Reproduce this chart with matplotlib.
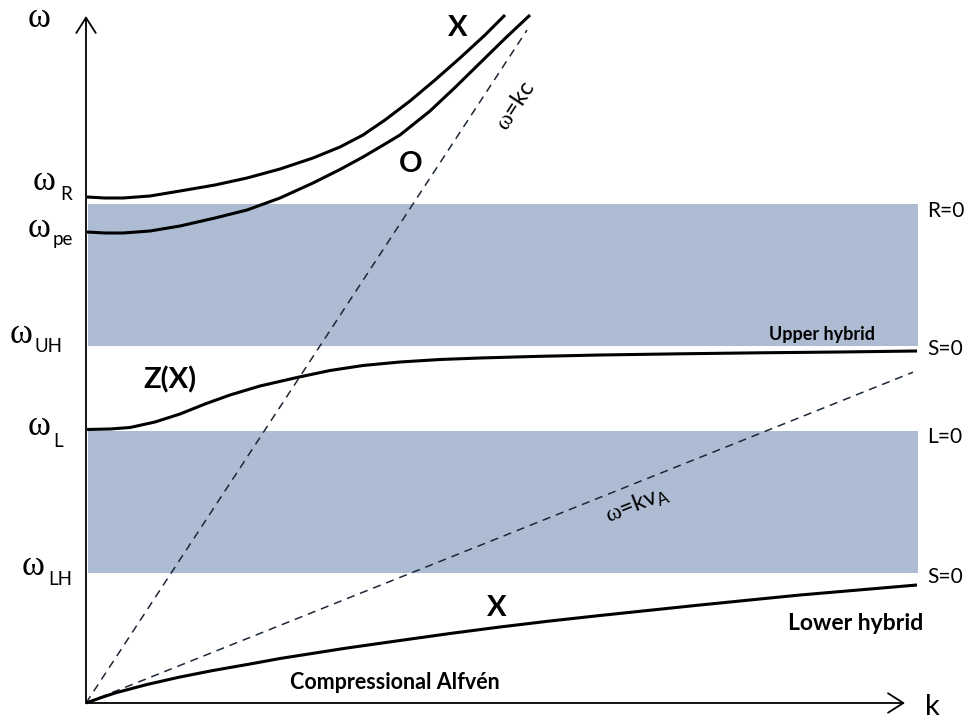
import numpy as np
import matplotlib
matplotlib.use("Agg")
import matplotlib.pyplot as plt
from matplotlib.patches import FancyArrowPatch

# ---------------- FONTS ----------------
plt.rcParams["font.family"] = ["Lato", "DejaVu Sans"]
plt.rcParams["mathtext.fontset"] = "custom"
plt.rcParams["mathtext.rm"] = "Liberation Serif"
plt.rcParams["mathtext.sf"] = "Lato"
SERIF = "Liberation Serif"

# ---------------- DATA (arbitrary units: k, omega) ----------------
# upper X branch (starts at omega_R)
x_hi_k = [0.01, 0.19, 0.37, 0.64, 0.94, 1.29, 1.61, 1.94, 2.27, 2.54, 2.77,
          2.99, 3.24, 3.49, 3.74, 3.99, 4.19]
x_hi_w = [5.06, 5.05, 5.05, 5.07, 5.12, 5.18, 5.25, 5.34, 5.45, 5.56, 5.68,
          5.83, 6.02, 6.23, 6.45, 6.68, 6.88]

# O mode (starts at omega_pe)
o_k = [0.01, 0.19, 0.37, 0.64, 0.94, 1.29, 1.61, 1.94, 2.27, 2.54, 2.77,
       2.99, 3.14, 3.44, 3.69, 3.94, 4.19, 4.44]
o_w = [4.71, 4.70, 4.70, 4.72, 4.77, 4.85, 4.93, 5.05, 5.20, 5.335, 5.46,
       5.59, 5.68, 5.92, 6.155, 6.40, 6.645, 6.88]

# Z(X) branch, omega_L -> upper hybrid
z_k = [0.01, 0.24, 0.44, 0.69, 0.94, 1.19, 1.44, 1.74, 2.11, 2.44, 2.77,
       3.14, 3.54, 3.94, 4.54, 5.14, 5.94, 6.74, 7.54, 8.31]
z_w = [2.735, 2.74, 2.755, 2.81, 2.89, 2.99, 3.08, 3.17, 3.255, 3.325, 3.375,
       3.41, 3.435, 3.45, 3.467, 3.48, 3.492, 3.502, 3.51, 3.52]

# lower X branch (compressional Alfven -> lower hybrid)
a_k = [0.0, 0.14, 0.29, 0.44, 0.61, 0.94, 1.27, 1.64, 1.94, 2.61, 3.14,
       3.64, 4.14, 4.64, 5.14, 6.14, 7.14, 8.31]
a_w = [0.0, 0.05, 0.10, 0.14, 0.185, 0.26, 0.325, 0.39, 0.445, 0.55, 0.625,
       0.695, 0.76, 0.82, 0.875, 0.98, 1.08, 1.18]

# light lines
c_light = 1.526
k_c_end = 4.41
v_alfven = 0.40
k_va_end = 8.27

# evanescent bands (omega_lo, omega_hi)
band_k = (0.02, 8.32)
band_r = (3.57, 4.99)   # between upper hybrid and R=0
band_l = (1.30, 2.72)   # between lower hybrid and L=0

# axis labels: (name, omega x-pos, omega baseline, sub x-pos, sub baseline)
freq_labels = [
    ("R", -0.53, 5.13, -0.26, 5.03),
    ("pe", -0.58, 4.66, -0.33, 4.58),
    ("UH", -0.76, 3.60, -0.51, 3.51),
    ("L", -0.58, 2.68, -0.33, 2.56),
    ("LH", -0.64, 1.28, -0.38, 1.18),
]
cutoff_labels = [("R=0", 4.86), ("S=0", 3.48), ("L=0", 2.60), ("S=0", 1.20)]

BAND_COLOR = "#adbcd2"
DASH_COLOR = "#1c2636"

# ---------------- FIGURE ----------------
fig = plt.figure(figsize=(9.8, 7.2), dpi=100)
ax = fig.add_axes([0, 0, 1, 1])
ax.set_xlim(-0.86, 8.94)
ax.set_ylim(-0.17, 7.03)
ax.axis("off")

for lo, hi in (band_r, band_l):
    ax.fill_between(band_k, lo, hi, color=BAND_COLOR, lw=0, zorder=1)

kc = np.array([0, k_c_end])
ax.plot(kc, c_light * kc, color=DASH_COLOR, lw=1.1, ls=(0, (5.3, 3.9)), zorder=2)
kv = np.array([0, k_va_end])
ax.plot(kv, v_alfven * kv, color=DASH_COLOR, lw=1.1, ls=(0, (5.3, 3.9)), zorder=2)

for kk, ww in ((x_hi_k, x_hi_w), (o_k, o_w), (z_k, z_w), (a_k, a_w)):
    ax.plot(kk, ww, color="black", lw=2.2, solid_capstyle="butt",
            solid_joinstyle="round", zorder=3)

# axes with open arrow heads
for end in ((0, 6.87), (8.19, 0)):
    ax.add_patch(FancyArrowPatch((0, 0), end, arrowstyle="->,head_length=0.55,head_width=0.35",
                                 mutation_scale=20, lw=1.3, color="black",
                                 shrinkA=0, shrinkB=0, zorder=4))

ax.text(-0.58, 6.76, "ω", fontsize=25, family=SERIF, ha="left", va="baseline")
ax.text(8.39, -0.12, "k", fontsize=21, ha="left", va="baseline")

for sub, wx, wy, sx, sy in freq_labels:
    ax.text(wx, wy, "ω", fontsize=25, family=SERIF, ha="left", va="baseline")
    ax.text(sx, sy, sub, fontsize=13.5, ha="left", va="baseline")

for txt, w in cutoff_labels:
    ax.text(8.41, w, txt, fontsize=15, ha="left", va="baseline")

# mode names
ax.text(3.72, 6.755, "X", fontsize=21, fontweight="bold", ha="center", va="center")
ax.text(3.245, 5.395, "O", fontsize=21, fontweight="bold", ha="center", va="center")
ax.text(0.84, 3.235, "Z(X)", fontsize=21, fontweight="bold", ha="center", va="center")
ax.text(4.11, 0.955, "X", fontsize=21, fontweight="bold", ha="center", va="center")

ax.text(7.89, 3.63, "Upper hybrid", fontsize=13, fontweight="bold", ha="right", va="baseline")
ax.text(8.37, 0.73, "Lower hybrid", fontsize=16.5, fontweight="bold", ha="right", va="baseline")
ax.text(3.085, 0.14, "Compressional Alfvén", fontsize=15.5, fontweight="bold",
        ha="center", va="baseline")

ang_c = np.degrees(np.arctan(c_light))
ang_a = np.degrees(np.arctan(v_alfven))
ax.text(4.30, 5.97, r"$\mathrm{\omega}$=kc", fontsize=17, rotation=ang_c,
        rotation_mode="anchor", ha="center", va="center")
ax.text(5.51, 1.98, r"$\mathrm{\omega}$=kv$_\mathsf{A}$", fontsize=17, rotation=ang_a,
        rotation_mode="anchor", ha="center", va="center")

fig.savefig("out.png", dpi=100)
